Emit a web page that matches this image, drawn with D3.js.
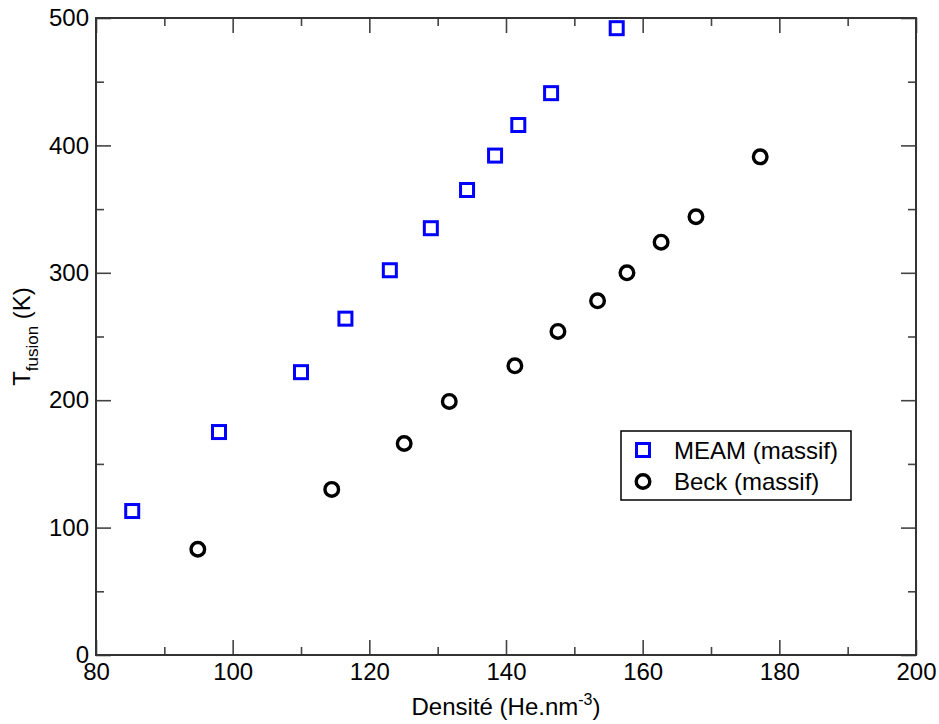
<!DOCTYPE html>
<html>
<head>
<meta charset="utf-8">
<script src="https://cdn.jsdelivr.net/npm/d3@7"></script>
<style>
  body { margin: 0; background: #fff; }
  svg { display: block; }
  text { font-family: "Liberation Sans", Arial, Helvetica, sans-serif; fill: #000; }
</style>
</head>
<body>
<svg id="chart" width="939" height="724"></svg>
<script>
// ---- Data ----
const meamX = [85.3, 98.0, 110.0, 116.5, 123.0, 129.0, 134.3, 138.4, 141.8, 146.6, 156.2];
const meamY = [113, 175, 222, 264, 302, 335, 365, 392, 416, 441, 492];
const beckX = [94.9, 114.5, 125.1, 131.7, 141.3, 147.6, 153.4, 157.7, 162.7, 167.8, 177.2];
const beckY = [83, 130, 166, 199, 227, 254, 278, 300, 324, 344, 391];
const xMajorTicks = [80, 100, 120, 140, 160, 180, 200];
const xMinorTicks = [90, 110, 130, 150, 170, 190];
const yMajorTicks = [0, 100, 200, 300, 400, 500];
const yMinorTicks = [50, 150, 250, 350, 450];
const seriesNames = ["MEAM (massif)", "Beck (massif)"];

// ---- Layout ----
const L = 96, R = 916, T = 18, B = 655;
const svg = d3.select("#chart");
const x = d3.scaleLinear().domain([80, 200]).range([L, R]);
const y = d3.scaleLinear().domain([0, 500]).range([B, T]);

const FS = 24;
const tickColor = "#444";
function styleAxis(g) {
  g.select(".domain").remove();
  g.selectAll(".tick line").attr("stroke", tickColor).attr("stroke-width", 1.6);
  g.selectAll(".tick text").style("font-size", FS + "px").attr("fill", "#000")
    .style("font-family", "'Liberation Sans', Arial, sans-serif");
}

// bottom
svg.append("g").attr("transform", `translate(0,${B})`)
  .call(d3.axisBottom(x).tickValues(xMajorTicks).tickSizeInner(-15).tickSizeOuter(0).tickPadding(8).tickFormat(d3.format("d")))
  .call(styleAxis);
svg.append("g").attr("transform", `translate(0,${B})`)
  .call(d3.axisBottom(x).tickValues(xMinorTicks).tickSizeInner(-8).tickSizeOuter(0).tickFormat(""))
  .call(styleAxis);
// top
svg.append("g").attr("transform", `translate(0,${T})`)
  .call(d3.axisTop(x).tickValues(xMajorTicks).tickSizeInner(-15).tickSizeOuter(0).tickFormat(""))
  .call(styleAxis);
svg.append("g").attr("transform", `translate(0,${T})`)
  .call(d3.axisTop(x).tickValues(xMinorTicks).tickSizeInner(-8).tickSizeOuter(0).tickFormat(""))
  .call(styleAxis);
// left
svg.append("g").attr("transform", `translate(${L},0)`)
  .call(d3.axisLeft(y).tickValues(yMajorTicks).tickSizeInner(-15).tickSizeOuter(0).tickPadding(7).tickFormat(d3.format("d")))
  .call(styleAxis);
svg.append("g").attr("transform", `translate(${L},0)`)
  .call(d3.axisLeft(y).tickValues(yMinorTicks).tickSizeInner(-8).tickSizeOuter(0).tickFormat(""))
  .call(styleAxis);
// right
svg.append("g").attr("transform", `translate(${R},0)`)
  .call(d3.axisRight(y).tickValues(yMajorTicks).tickSizeInner(-15).tickSizeOuter(0).tickFormat(""))
  .call(styleAxis);
svg.append("g").attr("transform", `translate(${R},0)`)
  .call(d3.axisRight(y).tickValues(yMinorTicks).tickSizeInner(-8).tickSizeOuter(0).tickFormat(""))
  .call(styleAxis);

// frame
svg.append("rect").attr("x", L).attr("y", T).attr("width", R - L).attr("height", B - T)
  .attr("fill", "none").attr("stroke", "#333").attr("stroke-width", 2);

// ---- Marks ----
const sq = 13;
svg.append("g").selectAll("rect.meam").data(meamX.map((v, i) => [v, meamY[i]])).join("rect")
  .attr("class", "meam")
  .attr("x", d => x(d[0]) - sq / 2).attr("y", d => y(d[1]) - sq / 2)
  .attr("width", sq).attr("height", sq)
  .attr("fill", "none").attr("stroke", "#0000ff").attr("stroke-width", 3);

svg.append("g").selectAll("circle.beck").data(beckX.map((v, i) => [v, beckY[i]])).join("circle")
  .attr("class", "beck")
  .attr("cx", d => x(d[0])).attr("cy", d => y(d[1])).attr("r", 6.8)
  .attr("fill", "none").attr("stroke", "#000").attr("stroke-width", 3.4);

// ---- Legend ----
const lg = svg.append("g");
lg.append("rect").attr("x", 621).attr("y", 431).attr("width", 230).attr("height", 69)
  .attr("fill", "#fff").attr("stroke", "#000").attr("stroke-width", 1.5);
lg.append("rect").attr("x", 643 - sq / 2).attr("y", 450 - sq / 2).attr("width", sq).attr("height", sq)
  .attr("fill", "none").attr("stroke", "#0000ff").attr("stroke-width", 3);
lg.append("circle").attr("cx", 643).attr("cy", 481.5).attr("r", 6.8)
  .attr("fill", "none").attr("stroke", "#000").attr("stroke-width", 3.4);
lg.append("text").attr("x", 674).attr("y", 458.5).style("font-size", FS + "px").text(seriesNames[0]);
lg.append("text").attr("x", 674).attr("y", 490).style("font-size", FS + "px").text(seriesNames[1]);

// ---- Axis titles ----
const xt = svg.append("text").attr("x", (L + R) / 2).attr("y", 715)
  .attr("text-anchor", "middle").style("font-size", FS + "px");
xt.append("tspan").text("Densité (He.nm");
xt.append("tspan").attr("dy", -10).style("font-size", "16px").text("-3");
xt.append("tspan").attr("dy", 10).text(")");

const yt = svg.append("text").attr("transform", `translate(30,${(T + B) / 2}) rotate(-90)`)
  .attr("text-anchor", "middle").style("font-size", FS + "px");
yt.append("tspan").text("T");
yt.append("tspan").attr("dy", 8).style("font-size", "17px").text("fusion");
yt.append("tspan").attr("dy", -8).text(" (K)");
</script>
</body>
</html>
